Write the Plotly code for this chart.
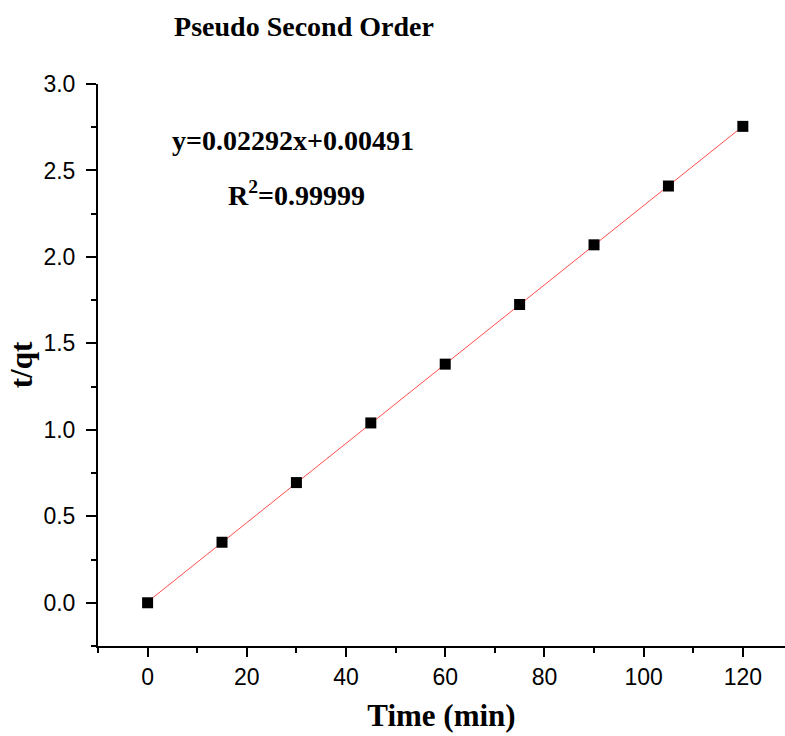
import plotly.graph_objects as go
import numpy as np

time_min = [0, 15, 30, 45, 60, 75, 90, 105, 120]
t_qt = [0.0, 0.35, 0.695, 1.04, 1.38, 1.725, 2.07, 2.41, 2.755]
slope = 0.02292
intercept = 0.00491
eq_text = "y=0.02292x+0.00491"
r2_text = "R<sup>2</sup>=0.99999"

fit_x = np.array([min(time_min), max(time_min)])
fit_y = slope * fit_x + intercept

serif = "Liberation Serif, Times New Roman, serif"
sans = "Liberation Sans, Arial, sans-serif"

fig = go.Figure()
fig.add_trace(go.Scatter(x=fit_x, y=fit_y, mode="lines",
                         line=dict(color="#ff4d4d", width=1), showlegend=False))
fig.add_trace(go.Scatter(x=time_min, y=t_qt, mode="markers",
                         marker=dict(symbol="square", size=11, color="black"),
                         showlegend=False))

fig.update_layout(
    width=785, height=736,
    margin=dict(l=98, r=0, t=84, b=90),
    plot_bgcolor="white", paper_bgcolor="white",
    font=dict(family=sans, size=23, color="black"),
    title=dict(text="<b>Pseudo Second Order</b>", x=304/785, xanchor="center",
               y=1-26/736, yanchor="middle",
               font=dict(family=serif, size=28, color="black")),
    xaxis=dict(range=[-10, 128.5], tickvals=[0, 20, 40, 60, 80, 100, 120],
               ticks="outside", ticklen=9, tickwidth=2, tickcolor="black",
               showline=True, linewidth=2, linecolor="black", showgrid=False,
               zeroline=False,
               minor=dict(tickvals=[-10, 10, 30, 50, 70, 90, 110], ticks="outside",
                          ticklen=5, tickwidth=2, tickcolor="black", showgrid=False),
               tickfont=dict(family=sans, size=23),
               title=dict(text="<b>Time (min)</b>", standoff=16,
                          font=dict(family=serif, size=31))),
    yaxis=dict(range=[-0.25, 3.0], tickvals=[0, 0.5, 1.0, 1.5, 2.0, 2.5, 3.0],
               tickformat=".1f",
               ticks="outside", ticklen=10, tickwidth=2, tickcolor="black",
               showline=True, linewidth=2, linecolor="black", showgrid=False,
               zeroline=False, ticklabelstandoff=6,
               minor=dict(tickvals=[-0.25, 0.25, 0.75, 1.25, 1.75, 2.25, 2.75], ticks="outside",
                          ticklen=5, tickwidth=2, tickcolor="black", showgrid=False),
               tickfont=dict(family=sans, size=23),
               title=dict(text="<b>t/qt</b>", standoff=2,
                          font=dict(family=serif, size=31))),
)

fig.add_annotation(text="<b>" + eq_text + "</b>", xref="paper", yref="paper",
                   x=(293-98)/687, y=(646-141)/562, xanchor="center", yanchor="middle",
                   showarrow=False, font=dict(family=serif, size=28, color="black"))
fig.add_annotation(text="<b>" + r2_text + "</b>", xref="paper", yref="paper",
                   x=(296-98)/687, y=(646-193)/562, xanchor="center", yanchor="middle",
                   showarrow=False, font=dict(family=serif, size=28, color="black"))

fig.write_html("out.html")
